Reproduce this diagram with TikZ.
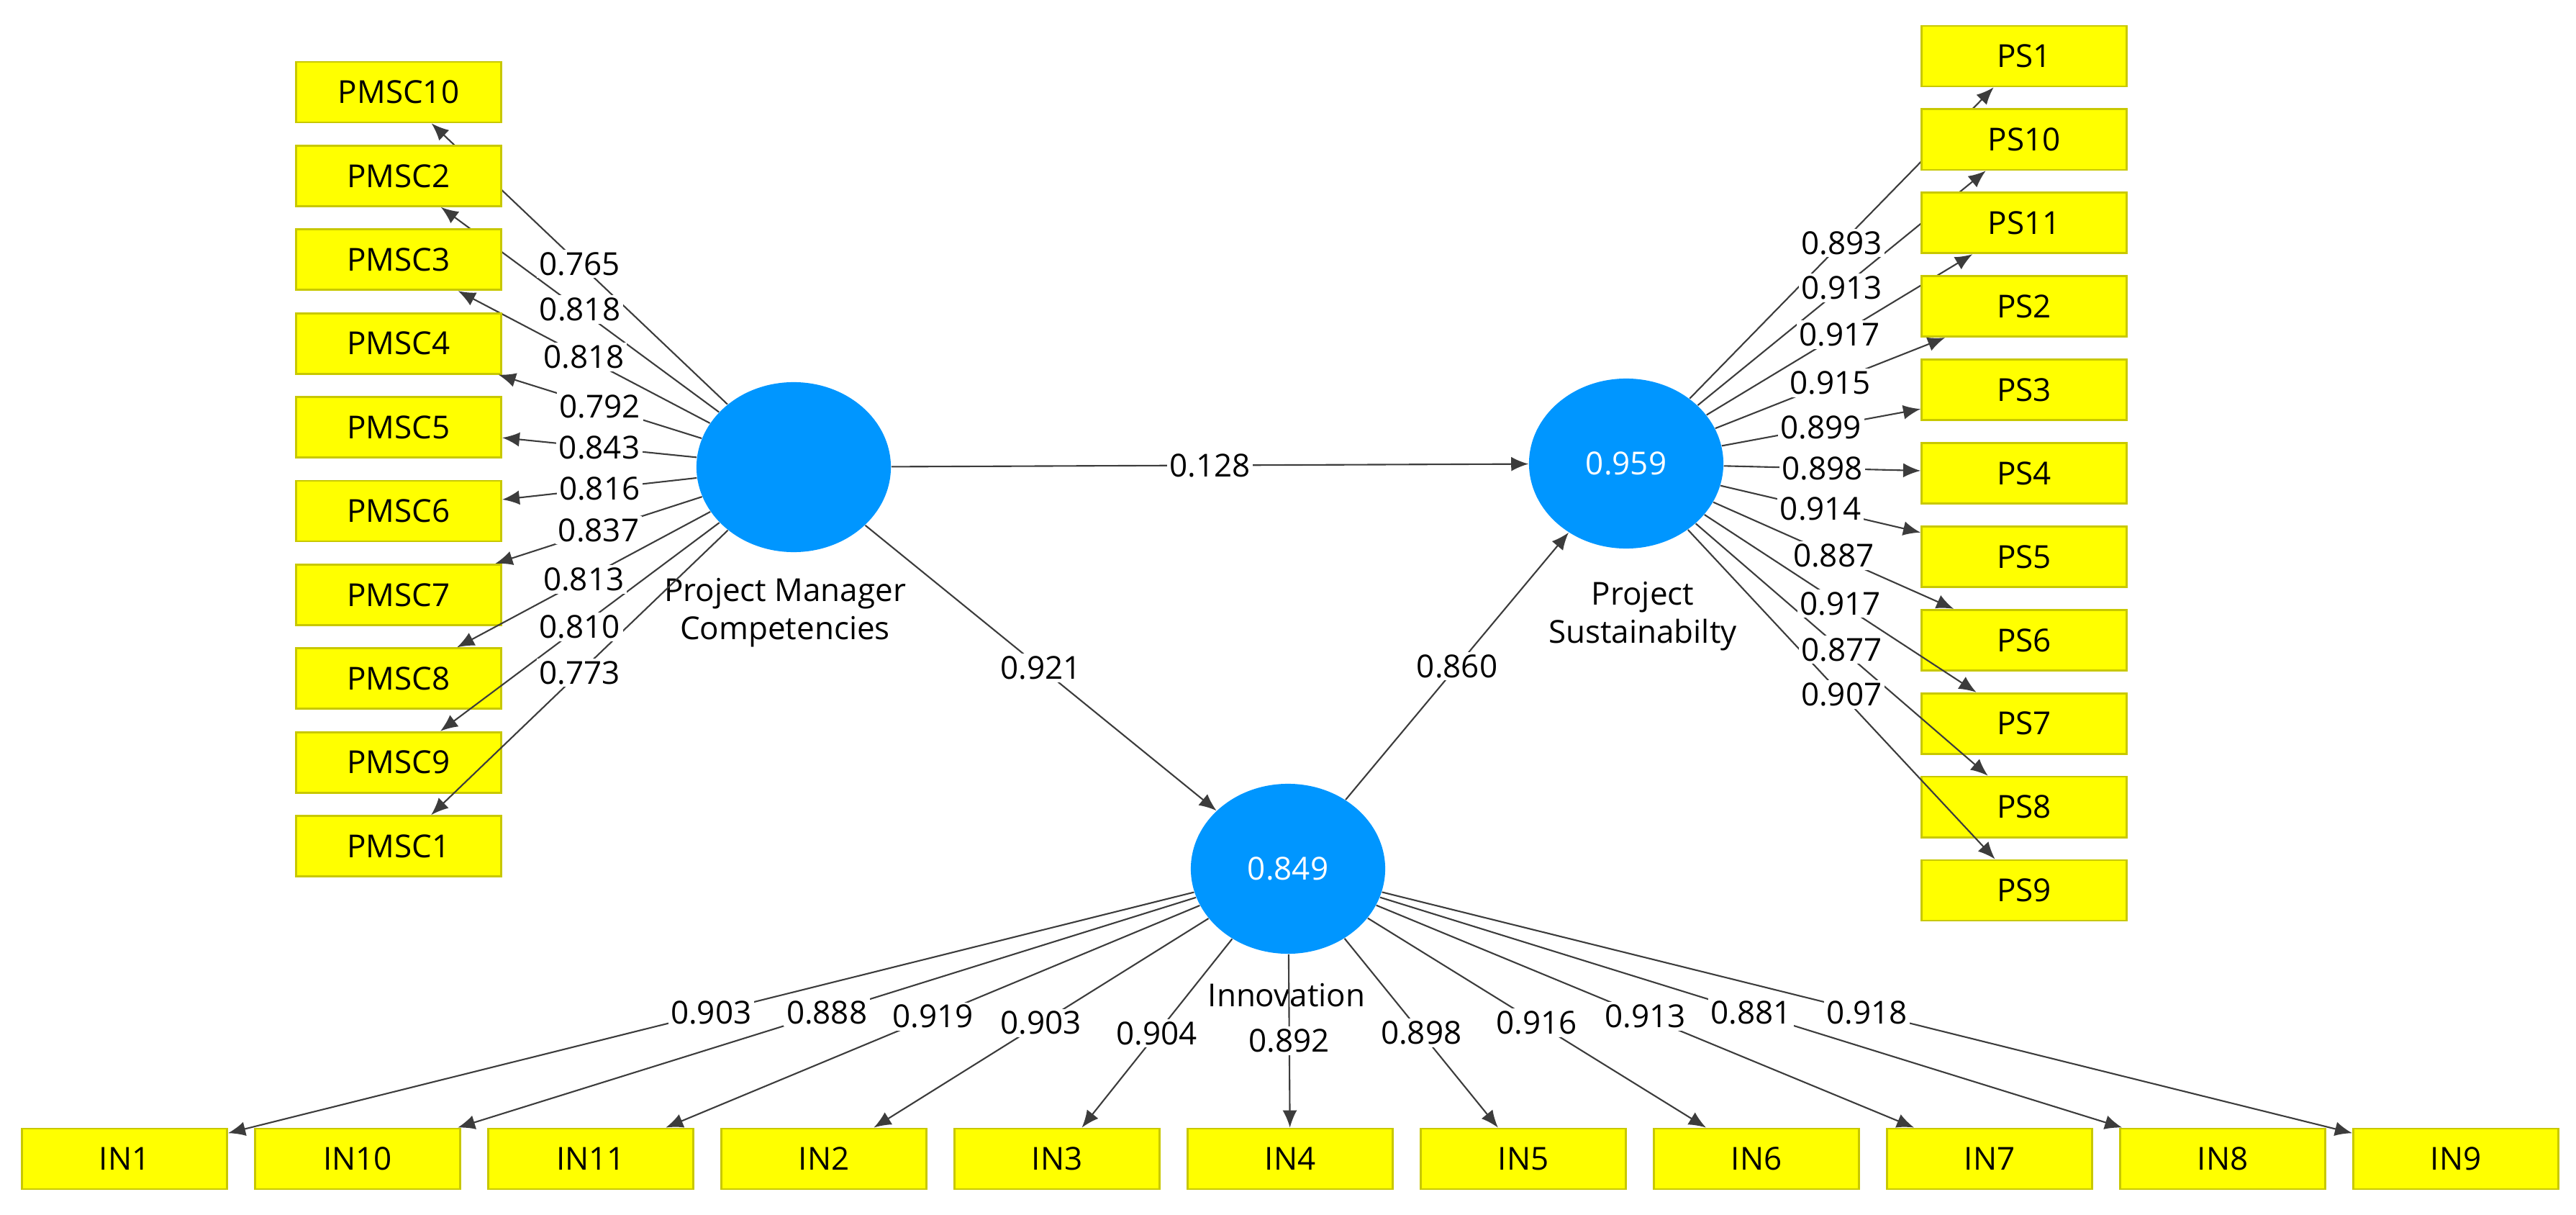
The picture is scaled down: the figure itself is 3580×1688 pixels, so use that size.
\documentclass[tikz,border=0pt]{standalone}
\usepackage{fontspec}
\setmainfont{Open Sans}
\usetikzlibrary{shapes.geometric,arrows.meta}
\definecolor{lvblue}{RGB}{0,150,255}
\definecolor{boxyellow}{RGB}{255,255,0}
\definecolor{boxedge}{RGB}{200,200,0}
\definecolor{linegray}{RGB}{60,60,60}
\begin{document}
\begin{tikzpicture}[x=0.01cm,y=-0.01cm,font=\fontsize{12.5}{15}\selectfont,
  latent/.style={ellipse,fill=lvblue,text=white,minimum width=2.7cm,minimum height=2.36cm,inner sep=0pt},
  item/.style={rectangle,draw=boxedge,fill=boxyellow,line width=0.8pt,minimum width=2.85cm,minimum height=0.84cm,inner sep=0pt},
  load/.style={draw=linegray,line width=0.6pt,-{Latex[length=2.4mm,width=2mm]}},
  val/.style={fill=white,inner sep=1pt}]

  \useasboundingbox (0,0) rectangle (3580,1688);

  \node[latent] (pmc) at (1103,649) {};
  \node[latent] (ps) at (2260,644) {0.959};
  \node[latent] (inn) at (1790,1207) {0.849};

  \node[align=center] at (1091,851) {Project Manager\\Competencies};
  \node[align=center] at (2283,856) {Project\\Sustainabilty};
  \node at (1788,1383) {Innovation};

  % indicators
  \foreach \n [count=\i from 0] in {PMSC10,PMSC2,PMSC3,PMSC4,PMSC5,PMSC6,PMSC7,PMSC8,PMSC9,PMSC1}{
    \node[item] (\n) at (554,128+116.4*\i) {\n};
    \draw[load] (pmc) -- coordinate (m\n) (\n);
  }
  \foreach \n [count=\i from 0] in {PS1,PS10,PS11,PS2,PS3,PS4,PS5,PS6,PS7,PS8,PS9}{
    \node[item] (\n) at (2813,78+115.9*\i) {\n};
    \draw[load] (ps) -- coordinate (m\n) (\n);
  }
  \foreach \n [count=\i from 0] in {IN1,IN10,IN11,IN2,IN3,IN4,IN5,IN6,IN7,IN8,IN9}{
    \node[item] (\n) at (173+324*\i,1610) {\n};
    \draw[load] (inn) -- coordinate (m\n) (\n);
  }

  % loadings
  \foreach \n/\v in {PMSC10/0.765,PMSC2/0.818,PMSC3/0.818,PMSC4/0.792,PMSC5/0.843,
      PMSC6/0.816,PMSC7/0.837,PMSC8/0.813,PMSC9/0.810,PMSC1/0.773,
      PS1/0.893,PS10/0.913,PS11/0.917,PS2/0.915,PS3/0.899,PS4/0.898,
      PS5/0.914,PS6/0.887,PS7/0.917,PS8/0.877,PS9/0.907,
      IN1/0.903,IN10/0.888,IN11/0.919,IN2/0.903,IN3/0.904,IN4/0.892,
      IN5/0.898,IN6/0.916,IN7/0.913,IN8/0.881,IN9/0.918}
    \node[val] at (m\n) {\v};

  % paths
  \draw[load] (pmc) -- node[val] {0.128} (ps);
  \draw[load] (pmc) -- node[val] {0.921} (inn);
  \draw[load] (inn) -- node[val] {0.860} (ps);
\end{tikzpicture}
\end{document}
